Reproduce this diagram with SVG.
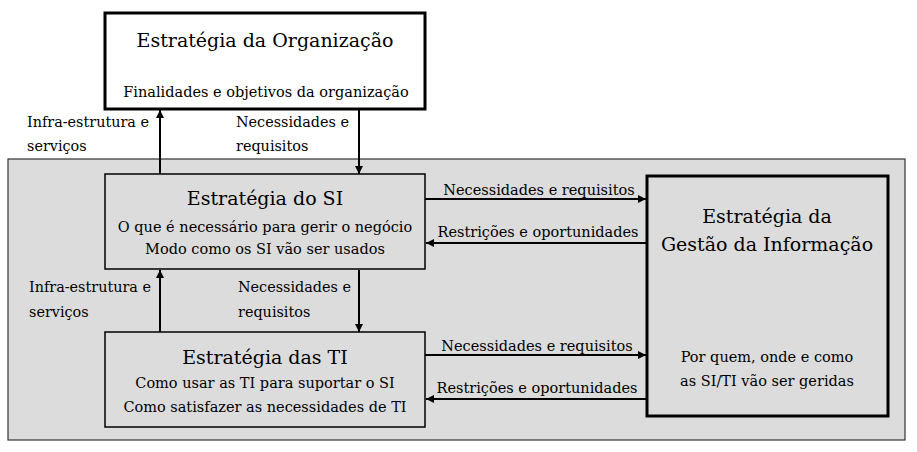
<svg xmlns="http://www.w3.org/2000/svg" width="917" height="452" viewBox="0 0 917 452">
<defs>
<marker id="ah" viewBox="0 0 10 10" refX="10" refY="5" markerWidth="8" markerHeight="8" markerUnits="userSpaceOnUse" orient="auto">
<path d="M0,0 L10,5 L0,10 z" fill="#000"/>
</marker>
</defs>
<style>
text{font-family:'DejaVu Serif','Liberation Serif',serif;fill:#000}
.t{font-size:19px;text-anchor:middle}
.s{font-size:14.5px;text-anchor:middle}
.l{font-size:14.4px}
.box{fill:#dcdcdc;stroke:#000;stroke-width:1.5}
.c{stroke:#000;stroke-width:2;fill:none;marker-end:url(#ah)}
</style>
<rect id="bg" x="8" y="159" width="897" height="281" fill="#dcdcdc" stroke="#333" stroke-width="1.2"/>
<g id="org">
<rect x="105" y="13" width="320" height="96" fill="#fff" stroke="#000" stroke-width="3"/>
<text class="t" x="265" y="47">Estratégia da Organização</text>
<text class="s" x="266" y="97">Finalidades e objetivos da organização</text>
</g>
<g id="si">
<rect class="box" x="105" y="174" width="320" height="95"/>
<text class="t" x="265" y="205">Estratégia do SI</text>
<text class="s" x="265" y="232">O que é necessário para gerir o negócio</text>
<text class="s" x="265" y="254">Modo como os SI vão ser usados</text>
</g>
<g id="ti">
<rect class="box" x="105" y="332" width="320" height="95"/>
<text class="t" x="265" y="364">Estratégia das TI</text>
<text class="s" x="265" y="388">Como usar as TI para suportar o SI</text>
<text class="s" x="265" y="412">Como satisfazer as necessidades de TI</text>
</g>
<g id="gi">
<rect x="647" y="176" width="241" height="240" fill="#dcdcdc" stroke="#000" stroke-width="3"/>
<text class="t" x="767" y="223">Estratégia da</text>
<text class="t" x="767" y="251">Gestão da Informação</text>
<text class="s" x="767" y="362">Por quem, onde e como</text>
<text class="s" x="767" y="386">as SI/TI vão ser geridas</text>
</g>
<g id="connectors">
<line class="c" x1="160" y1="174" x2="160" y2="110"/>
<line class="c" x1="359" y1="110" x2="359" y2="174"/>
<line class="c" x1="160" y1="332" x2="160" y2="270"/>
<line class="c" x1="359" y1="270" x2="359" y2="332"/>
<line class="c" x1="425" y1="199" x2="646" y2="199"/>
<line class="c" x1="646" y1="243" x2="426" y2="243"/>
<line class="c" x1="425" y1="355" x2="646" y2="355"/>
<line class="c" x1="646" y1="399" x2="426" y2="399"/>
<text class="l" x="27" y="127">Infra-estrutura e</text>
<text class="l" x="27" y="151">serviços</text>
<text class="l" x="236" y="127">Necessidades e</text>
<text class="l" x="236" y="151">requisitos</text>
<text class="l" x="29" y="292">Infra-estrutura e</text>
<text class="l" x="29" y="317">serviços</text>
<text class="l" x="238" y="292">Necessidades e</text>
<text class="l" x="238" y="317">requisitos</text>
<text class="s" x="539" y="195">Necessidades e requisitos</text>
<text class="s" x="538" y="237">Restrições e oportunidades</text>
<text class="s" x="537" y="351">Necessidades e requisitos</text>
<text class="s" x="537" y="393">Restrições e oportunidades</text>
</g>
</svg>
